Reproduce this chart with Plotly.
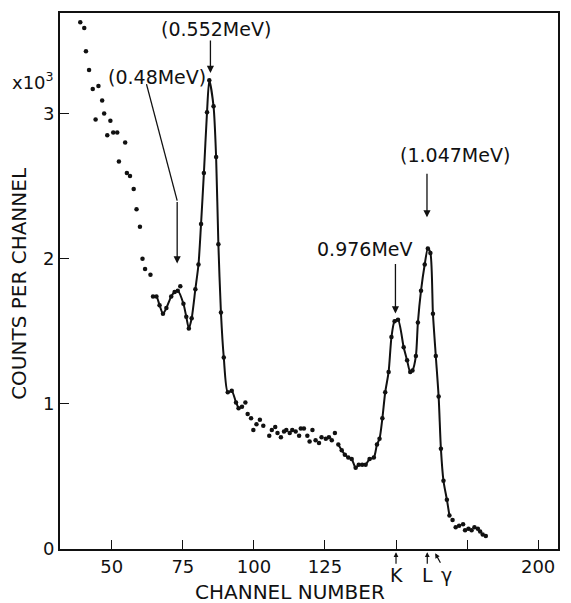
import plotly.graph_objects as go

# ---------------- data ----------------
# isolated points (no curve drawn through them)
dots_left_ch = [38.9, 40.3, 40.9, 42.0, 43.3, 44.3, 45.3, 46.6, 47.3, 48.4, 49.5, 50.5,
                51.9, 52.5, 54.7, 55.3, 56.4, 57.7, 58.7, 59.9, 60.8, 61.7, 63.6, 74.1]
dots_left_k = [3.63, 3.59, 3.43, 3.30, 3.17, 2.96, 3.19, 3.09, 3.00, 2.85, 2.95, 2.87,
               2.87, 2.67, 2.80, 2.59, 2.57, 2.48, 2.34, 2.22, 2.00, 1.93, 1.89, 1.81]

dots_mid_ch = [95.8, 97.0, 97.8, 99.0, 99.8, 100.9, 102.1, 103.3, 105.4, 106.3, 107.5, 108.3,
               109.5, 110.6, 111.4, 112.6, 113.5, 114.7, 115.9, 116.5, 117.6, 118.8, 119.6,
               120.6, 121.7, 122.9, 123.8, 125.3, 126.4, 127.4, 128.5]
dots_mid_k = [0.98, 1.01, 0.93, 0.90, 0.82, 0.86, 0.89, 0.85, 0.78, 0.82, 0.84, 0.80,
              0.77, 0.81, 0.82, 0.80, 0.82, 0.81, 0.78, 0.83, 0.83, 0.78, 0.74,
              0.82, 0.75, 0.73, 0.77, 0.76, 0.77, 0.75, 0.80]

dots_tail_ch = [169.9, 171.0, 172.2, 173.6, 174.3, 175.5, 176.6, 177.6, 178.8, 179.6, 180.5, 181.6]
dots_tail_k = [0.20, 0.15, 0.16, 0.17, 0.13, 0.14, 0.13, 0.15, 0.14, 0.12, 0.10, 0.09]

# points joined by the drawn curve
curve1_ch = [64.5, 65.7, 66.8, 68.0, 69.2, 70.9, 72.1, 73.2, 75.2, 76.2, 77.1, 78.1, 79.4,
             80.5, 81.4, 82.4, 83.5, 84.3, 85.8, 86.7, 87.5, 88.4, 89.4, 90.8, 92.2, 93.7, 94.6]
curve1_k = [1.74, 1.74, 1.68, 1.62, 1.66, 1.74, 1.77, 1.78, 1.69, 1.60, 1.52, 1.59, 1.79,
            1.96, 2.24, 2.59, 3.01, 3.23, 3.05, 2.70, 2.10, 1.63, 1.32, 1.08, 1.09, 1.01, 0.97]

curve2_ch = [129.7, 130.9, 132.0, 133.2, 134.4, 135.8, 136.9, 138.1, 139.3, 140.7, 142.2, 143.3,
             144.2, 145.2, 146.2, 147.4, 148.4, 149.5, 150.7, 152.7, 153.9, 155.0, 155.8, 157.0,
             157.7, 158.8, 160.1, 161.2, 162.1, 163.0, 164.0, 165.0, 165.8, 166.7, 167.9, 168.8]
curve2_k = [0.72, 0.68, 0.65, 0.63, 0.62, 0.56, 0.58, 0.58, 0.58, 0.62, 0.63, 0.72,
            0.76, 0.90, 1.08, 1.22, 1.46, 1.57, 1.58, 1.39, 1.30, 1.22, 1.23, 1.33,
            1.56, 1.78, 1.96, 2.07, 2.04, 1.62, 1.33, 1.05, 0.69, 0.47, 0.34, 0.23]

x_tick_vals = [50, 75, 100, 125, 150, 175, 200]
x_tick_text = ["50", "75", "100", "125", "", "", "200"]
y_tick_vals = [0, 1, 2, 3]
y_tick_text = ["0", "1", "2", "3"]

FONT = "DejaVu Sans"
INK = "#111111"

fig = go.Figure()

for xs, ys in [(dots_left_ch, dots_left_k), (dots_mid_ch, dots_mid_k), (dots_tail_ch, dots_tail_k)]:
    fig.add_trace(go.Scatter(x=xs, y=ys, mode="markers",
                             marker=dict(size=4.5, color=INK), showlegend=False,
                             hoverinfo="x+y"))

for xs, ys in [(curve1_ch, curve1_k), (curve2_ch, curve2_k)]:
    fig.add_trace(go.Scatter(x=xs, y=ys, mode="lines+markers",
                             line=dict(color=INK, width=2, shape="spline", smoothing=0.7),
                             marker=dict(size=4.5, color=INK), showlegend=False,
                             hoverinfo="x+y"))

# ---------------- annotations ----------------
tf = dict(family=FONT, size=19, color=INK)
mid = dict(xanchor="center", yanchor="middle")
ann = []
# labels
ann.append(dict(x=86.8, y=3.58, text="(0.552MeV)", showarrow=False, font=tf, **mid))
ann.append(dict(x=65.8, y=3.253, text="(0.48MeV)", showarrow=False, font=tf, **mid))
ann.append(dict(x=170.6, y=2.717, text="(1.047MeV)", showarrow=False, font=tf, **mid))
ann.append(dict(x=139.0, y=2.07, text="0.976MeV", showarrow=False, font=tf, **mid))
# arrows
arrow = dict(text="", showarrow=True, arrowhead=2, arrowsize=1.1, arrowwidth=1.3,
             arrowcolor=INK, axref="pixel", ayref="pixel")
ann.append(dict(x=84.7, y=3.28, ax=0, ay=-34, **arrow))
ann.append(dict(x=73.0, y=1.967, ax=0, ay=-63, **arrow))
ann.append(dict(x=160.9, y=2.285, ax=0, ay=-45, **arrow))
ann.append(dict(x=149.8, y=1.623, ax=0, ay=-51, **arrow))
# x10^3
ann.append(dict(xref="paper", yref="paper", x=-0.054, y=0.873, text="x10<sup>3</sup>",
                showarrow=False, font=dict(family=FONT, size=18, color=INK), **mid))
# axis titles
ann.append(dict(xref="paper", yref="paper", x=-0.082, y=0.495, text="COUNTS PER CHANNEL",
                textangle=-90, showarrow=False, font=dict(family=FONT, size=20, color=INK), **mid))
ann.append(dict(xref="paper", yref="paper", x=0.462, y=-0.080, text="CHANNEL NUMBER",
                showarrow=False, font=dict(family=FONT, size=20, color=INK), **mid))
# K, L, gamma markers under the axis
for ch, lab in [(150.2, "K"), (161.1, "L"), (167.8, "γ")]:
    ann.append(dict(x=ch, xref="x", yref="paper", y=-0.049, text=lab, showarrow=False,
                    font=dict(family=FONT, size=19, color=INK), **mid))
small_arrow = dict(text="", showarrow=True, arrowhead=2, arrowsize=0.8, arrowwidth=1.2,
                   arrowcolor=INK, axref="pixel", ayref="pixel", xref="x", yref="paper")
ann.append(dict(x=150.0, y=-0.006, ax=0, ay=13, **small_arrow))
ann.append(dict(x=161.0, y=-0.006, ax=0, ay=13, **small_arrow))
ann.append(dict(x=163.8, y=-0.008, ax=6, ay=11, **small_arrow))

fig.update_layout(annotations=ann)

# bent leader line for 0.48 MeV
fig.add_shape(type="line", x0=62.2, y0=3.203, x1=73.0, y1=2.40,
              line=dict(color=INK, width=1.3))

fig.update_xaxes(range=[31.77, 207.0], tickmode="array", tickvals=x_tick_vals,
                 ticktext=x_tick_text, ticks="inside", ticklen=9, tickwidth=1.3,
                 tickcolor=INK, showline=True, linewidth=2, linecolor=INK, mirror=True,
                 showgrid=False, zeroline=False,
                 tickfont=dict(family=FONT, size=18, color=INK))
fig.update_yaxes(range=[0, 3.693], tickmode="array", tickvals=y_tick_vals,
                 ticktext=y_tick_text, ticks="inside", ticklen=9, tickwidth=1.3,
                 tickcolor=INK, showline=True, linewidth=2, linecolor=INK, mirror=True,
                 showgrid=False, zeroline=False,
                 tickfont=dict(family=FONT, size=18, color=INK))

fig.update_layout(width=571, height=603, margin=dict(l=60, r=11, t=12, b=54),
                  plot_bgcolor="white", paper_bgcolor="white", showlegend=False)

fig.write_html("out.html", config={"displayModeBar": False},
               post_script="document.body.style.margin='0px';")
